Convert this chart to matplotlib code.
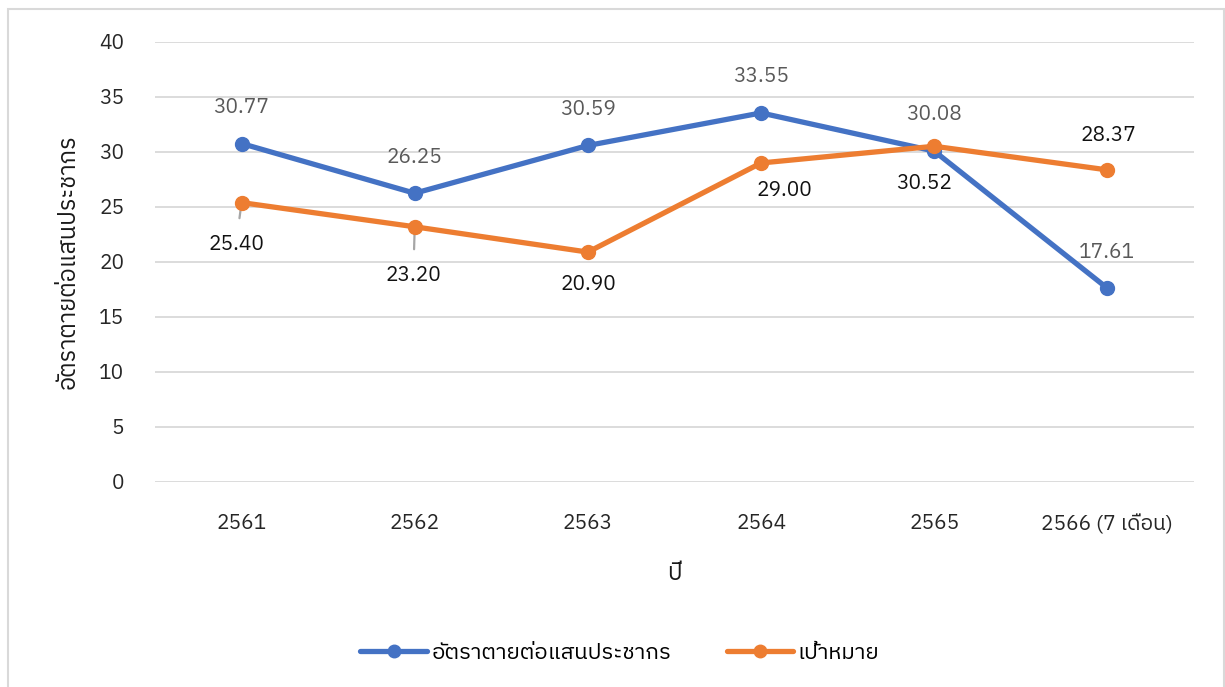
import matplotlib
matplotlib.use("Agg")
import matplotlib.pyplot as plt
from matplotlib import font_manager
from matplotlib.ft2font import FT2Font
from matplotlib.patches import Rectangle

# data
years = ['2561', '2562', '2563', '2564', '2565', '2566 (7 เดือน)']
death_rate = [30.77, 26.25, 30.59, 33.55, 30.08, 17.61]
target = [25.40, 23.20, 20.90, 29.00, 30.52, 28.37]
series_names = ['อัตราตายต่อแสนประชากร', 'เป้าหมาย']

# NOTE: find an installed font that has Thai glyphs
thai_fonts = []
for f in font_manager.fontManager.ttflist:
    try:
        if 0x0E2D in FT2Font(f.fname).get_charmap() and f.name not in thai_fonts:
            thai_fonts.append(f.name)
    except Exception:
        pass
thai_fonts.sort(key=lambda n: (0 if 'Sans' in n else 1, n))
plt.rcParams['font.family'] = thai_fonts[:1] + ['DejaVu Sans']

blue = '#4472C4'
orange = '#ED7D31'

fig = plt.figure(figsize=(12.25, 6.87), dpi=100)
ax = fig.add_axes([0.1265, 0.2984, 0.8482, 0.6405])

# outer chart border
fig.patches.append(Rectangle((8 / 1225, -0.05), (1224 - 8) / 1225, 1 - 9 / 687 + 0.05,
                             transform=fig.transFigure, fill=False,
                             edgecolor='#D9D9D9', linewidth=1.5))

x = range(len(years))
ax.plot(x, death_rate, color=blue, lw=3.8, marker='o', ms=10, label=series_names[0],
        solid_capstyle='round', zorder=3)
ax.plot(x, target, color=orange, lw=3.8, marker='o', ms=10, label=series_names[1],
        solid_capstyle='round', zorder=4)

ax.set_xlim(-0.5, len(years) - 0.5)
ax.set_ylim(0, 40)
ax.set_yticks(range(0, 41, 5))
ax.set_xticks(list(x))
ax.set_xticklabels(years)
ax.grid(axis='y', color='#D9D9D9', lw=1.3)
ax.set_axisbelow(True)
for s in ax.spines.values():
    s.set_visible(False)
ax.tick_params(length=0, labelsize=15, colors='#262626')
ax.tick_params(axis='y', pad=22)
ax.tick_params(axis='x', pad=23)

ax.set_xlabel('ปี', fontsize=17, color='#1a1a1a', labelpad=20)
ax.set_ylabel('อัตราตายต่อแสนประชากร', fontsize=17, color='#1a1a1a', labelpad=14)

# data labels (offsets in points)
for i, v in enumerate(death_rate):
    ax.annotate(f'{v:.2f}', (i, v), xytext=(0, 26), textcoords='offset points',
                ha='center', va='center', fontsize=15, color='#595959')

tgt_off = [(-4, -30), (-1, -35), (0, -23), (17, -20), (-7, -27), (1, 25)]
for i, v in enumerate(target):
    arrow = None
    if i in (0, 1):
        arrow = dict(arrowstyle='-', color='#A6A6A6', lw=1.6, shrinkA=10, shrinkB=3)
    ax.annotate(f'{v:.2f}', (i, v), xytext=tgt_off[i], textcoords='offset points',
                ha='center', va='center', fontsize=15, color='#111111',
                arrowprops=arrow)

ax.legend(loc='center', bbox_to_anchor=(0.4475, -0.389), ncol=2, frameon=False,
          fontsize=16, handlelength=3, columnspacing=2.5, handletextpad=0.2,
          markerscale=0.9)

fig.savefig('out.png', dpi=100)
